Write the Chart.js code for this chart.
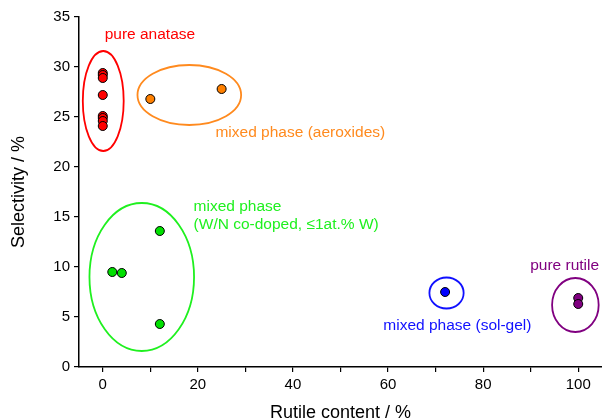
<!DOCTYPE html>
<html>
<head>
<meta charset="utf-8">
<script src="https://cdn.jsdelivr.net/npm/chart.js@4"></script>
<style>
  body { margin: 0; background: #fff; }
</style>
</head>
<body>
<canvas id="selectivity" width="602" height="420"></canvas>
<script>
// measured points (rutile content %, selectivity %)
var anataseX = [0, 0, 0, 0, 0, 0, 0, 0];
var anataseY = [29.4, 29.2, 28.9, 27.2, 25.1, 24.9, 24.6, 24.1];
var aeroxideX = [10, 25];
var aeroxideY = [26.8, 27.8];
var codopedX = [2, 4, 12, 12];
var codopedY = [9.5, 9.4, 13.6, 4.3];
var solgelX = [72];
var solgelY = [7.5];
var rutileX = [100, 100];
var rutileY = [6.9, 6.3];

var xTicks = [0, 10, 20, 30, 40, 50, 60, 70, 80, 90, 100];

// group ellipses: centre x, centre y, half width, half height (data units)
var groupNames = ["anatase", "aeroxides", "codoped", "solgel", "rutile"];
var ellipseCx = [0.1, 18.2, 8.2, 72.3, 99.4];
var ellipseCy = [26.6, 27.2, 9.0, 7.4, 6.2];
var ellipseRx = [4.3, 10.9, 11.0, 3.6, 4.9];
var ellipseRy = [5.0, 3.0, 7.4, 1.55, 2.7];

var groupLabels = [["pure anatase"], ["mixed phase (aeroxides)"], ["mixed phase", "(W/N co-doped, \u22641at.% W)"], ["mixed phase (sol-gel)"], ["pure rutile"]];
var labelX = [0.4, 23.7, 19.1, 59.0, 89.9];
var labelY = [33.2, 23.4, 16.0, 4.1, 10.1];

var colors = ["#ff0000", "#ff8a1e", "#1ff01f", "#1010ff", "#800080"];
var fills = ["#ff0000", "#ff8000", "#00e000", "#0000ff", "#800080"];

function pts(xs, ys){
	var result = [];
	for (var i = 0; i < xs.length; i++){
		result.push({x: xs[i], y: ys[i]});
	}
	return result;
}

function makeSet(name, xs, ys, idx){
	return {
		label: name,
		data: pts(xs, ys),
		backgroundColor: fills[idx],
		borderColor: "#000",
		borderWidth: 1,
		pointRadius: 4.5
	};
}

var groupPlugin = {
	id: "groups",
	beforeDatasetsDraw: function(chart){
		var ctx = chart.ctx;
		var xs = chart.scales.x, ys = chart.scales.y;
		ctx.save();
		for (var i = 0; i < groupNames.length; i++){
			var cx = xs.getPixelForValue(ellipseCx[i]);
			var cy = ys.getPixelForValue(ellipseCy[i]);
			var rx = Math.abs(xs.getPixelForValue(ellipseCx[i] + ellipseRx[i]) - cx);
			var ry = Math.abs(ys.getPixelForValue(ellipseCy[i] + ellipseRy[i]) - cy);
			ctx.beginPath();
			ctx.ellipse(cx, cy, rx, ry, 0, 0, Math.PI * 2);
			ctx.strokeStyle = colors[i];
			ctx.lineWidth = 1.8;
			ctx.stroke();

			ctx.fillStyle = colors[i];
			ctx.font = "15.5px 'Liberation Sans', Arial, sans-serif";
			ctx.textAlign = "left";
			ctx.textBaseline = "middle";
			var lx = xs.getPixelForValue(labelX[i]);
			var ly = ys.getPixelForValue(labelY[i]);
			for (var k = 0; k < groupLabels[i].length; k++){
				ctx.fillText(groupLabels[i][k], lx, ly + k * 18);
			}
		}
		ctx.restore();
	}
};

var ctx = document.getElementById("selectivity").getContext("2d");
var chart = new Chart(ctx, {
	type: "scatter",
	data: {
		datasets: [
			makeSet("pure anatase", anataseX, anataseY, 0),
			makeSet("aeroxides", aeroxideX, aeroxideY, 1),
			makeSet("W/N co-doped", codopedX, codopedY, 2),
			makeSet("sol-gel", solgelX, solgelY, 3),
			makeSet("pure rutile", rutileX, rutileY, 4)
		]
	},
	options: {
		responsive: false,
		animation: false,
		layout: { autoPadding: false, padding: { top: 17, right: 0, left: 0, bottom: 0 } },
		plugins: { legend: { display: false }, tooltip: { enabled: false } },
		scales: {
			x: {
				type: "linear",
				min: -5,
				max: 105,
				afterBuildTicks: function(scale){
					scale.ticks = xTicks.map(function(v){ return {value: v}; });
				},
				afterFit: function(scale){
					scale.height = 53;
					scale.paddingRight = 0;
					scale.paddingLeft = 0;
				},
				ticks: {
					autoSkip: false,
					maxRotation: 0,
					color: "#000",
					padding: 4,
					font: { family: "'Liberation Sans', Arial, sans-serif", size: 15 },
					callback: function(v){ return v % 20 === 0 ? String(v) : ""; }
				},
				grid: { drawOnChartArea: false, drawTicks: true, tickLength: 5, color: "#000", lineWidth: 1.2 },
				border: { display: true, color: "#000", width: 1.5 },
				title: {
					display: true,
					text: "Rutile content / %",
					color: "#000",
					font: { family: "'Liberation Sans', Arial, sans-serif", size: 18, lineHeight: 1 },
					padding: { top: 4, bottom: -2 }
				}
			},
			y: {
				type: "linear",
				min: 0,
				max: 35,
				afterFit: function(scale){ scale.width = 79; },
				ticks: {
					stepSize: 5,
					color: "#000",
					padding: 4,
					font: { family: "'Liberation Sans', Arial, sans-serif", size: 15 }
				},
				grid: { drawOnChartArea: false, drawTicks: true, tickLength: 5, color: "#000", lineWidth: 1.2 },
				border: { display: true, color: "#000", width: 1.5 },
				title: {
					display: true,
					text: "Selectivity / %",
					color: "#000",
					font: { family: "'Liberation Sans', Arial, sans-serif", size: 18, lineHeight: 1 },
					padding: { top: 10, bottom: 4 }
				}
			}
		}
	},
	plugins: [groupPlugin]
});
</script>
</body>
</html>
